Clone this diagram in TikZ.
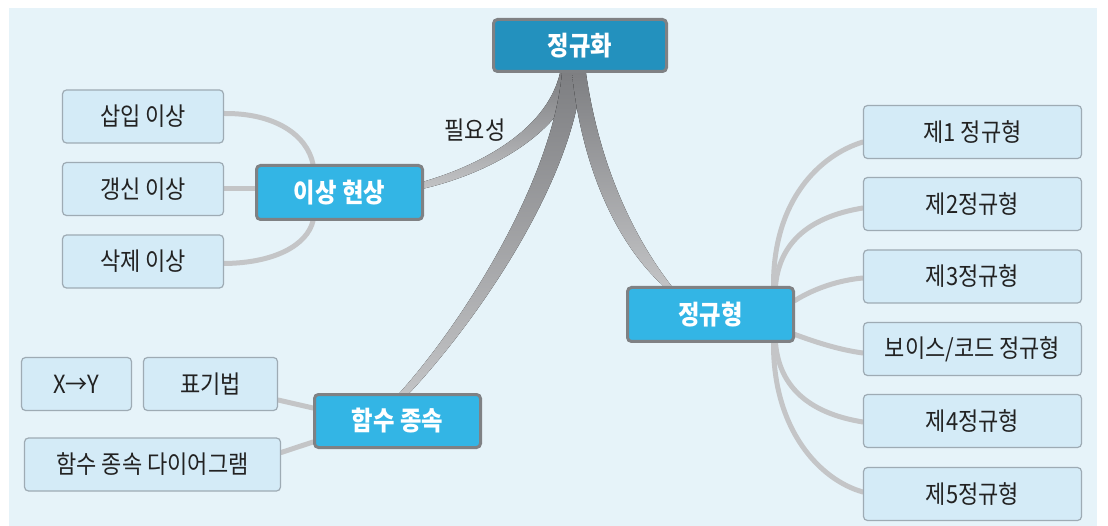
\documentclass[tikz,border=0pt]{standalone}
\usepackage{fontspec}
\setmainfont{Noto Sans CJK KR}[FakeStretch=0.88]
\usetikzlibrary{calc}
\pgfdeclarelayer{back}
\pgfdeclarelayer{bg}
\pgfsetlayers{back,bg,main}
\definecolor{bgblue}{HTML}{E6F3F9}
\definecolor{topfill}{HTML}{2391BE}
\definecolor{mainfill}{HTML}{33B5E5}
\definecolor{mainborder}{HTML}{7F8184}
\definecolor{leaffill}{HTML}{D4EBF7}
\definecolor{leafborder}{HTML}{9EABB4}
\definecolor{branchdark}{HTML}{7E7F82}
\definecolor{branchlight}{HTML}{C2C3C5}
\definecolor{twig}{HTML}{C4C5C7}
\definecolor{leaftext}{HTML}{222222}
\tikzset{
  mainbox/.style={draw=mainborder, line width=3pt, rounded corners=4pt, fill=mainfill,
    text=white, font=\fontsize{26.5}{30}\selectfont\bfseries, inner sep=0pt},
  topbox/.style={mainbox, fill=topfill},
  leafbox/.style={draw=leafborder, line width=1.2pt, rounded corners=4pt, fill=leaffill,
    text=leaftext, font=\fontsize{25}{28}\selectfont, inner sep=0pt, minimum height=53pt},
  branch/.style={top color=branchdark, bottom color=branchlight, draw=none},
  twigline/.style={draw=twig, line width=5pt, line cap=round},
  lbl/.style={text=leaftext, font=\fontsize{25}{28}\selectfont, inner sep=0pt}
}
\begin{document}
\begin{tikzpicture}[x=1pt,y=-1pt]
\useasboundingbox (0,0) rectangle (1108,526);
\begin{pgfonlayer}{back}
\fill[white] (0,0) rectangle (1108,526);
\fill[bgblue] (9,8) rectangle (1097,526);
\end{pgfonlayer}

% main nodes
\node[topbox, minimum width=173pt, minimum height=52pt] (norm) at (580,45.5) {정규화};
\node[mainbox, minimum width=166pt, minimum height=54pt] (ano) at (339.5,192.5) {이상 현상};
\node[mainbox, minimum width=166pt, minimum height=53pt] (fd) at (397.5,421) {함수 종속};
\node[mainbox, minimum width=166pt, minimum height=54pt] (nf) at (710.5,314.5) {정규형};

% left leaves
\node[leafbox, minimum width=161pt] (s1) at (143,116.5) {삽입 이상};
\node[leafbox, minimum width=161pt] (s2) at (143,189) {갱신 이상};
\node[leafbox, minimum width=161pt] (s3) at (143,261.5) {삭제 이상};

\node[leafbox, minimum width=110pt] (xy) at (76.5,384) {X→Y};
\node[leafbox, minimum width=134pt] (nota) at (210.5,384) {표기법};
\node[leafbox, minimum width=256pt] (diag) at (152.5,464.5) {함수 종속 다이어그램};

% right leaves
\node[leafbox, minimum width=218pt] (r1) at (972.5,132) {제1 정규형};
\node[leafbox, minimum width=218pt] (r2) at (972.5,204) {제2정규형};
\node[leafbox, minimum width=218pt] (r3) at (972.5,276.5) {제3정규형};
\node[leafbox, minimum width=218pt] (r4) at (972.5,349) {보이스/코드 정규형};
\node[leafbox, minimum width=218pt] (r5) at (972.5,421) {제4정규형};
\node[leafbox, minimum width=218pt] (r6) at (972.5,494) {제5정규형};

\node[lbl] (need) at (475,130) {필요성};

\begin{pgfonlayer}{bg}
% tapered main branches
\fill[branch] ($(norm.south)+(-20,0)$) .. controls (548,125) and (490,162) .. ($(ano.east)+(0,-11)$)
  -- ($(ano.east)+(0,-4)$) .. controls (495,172) and (568,128) .. ($(norm.south)+(-4,0)$) -- cycle;
\fill[branch] ($(norm.south)+(-18,0)$) .. controls (552,180) and (465,320) .. ($(fd.north)+(2,0)$)
  -- ($(fd.north)+(12,0)$) .. controls (478,320) and (574,180) .. ($(norm.south)+(2,0)$) -- cycle;
\fill[branch] ($(norm.south)+(-8,0)$) .. controls (582,170) and (618,245) .. ($(nf.north)+(-47,0)$)
  -- ($(nf.north)+(-39,0)$) .. controls (636,240) and (600,170) .. ($(norm.south)+(6,0)$) -- cycle;

% twigs of 이상 현상
\draw[twigline] ($(s1.east)+(0,-3)$) .. controls (275,113) and (307,135) .. ($(ano.north west)+(58,0)$);
\draw[twigline] (s2.east) -- (s2.east -| ano.west);
\draw[twigline] ($(s3.east)+(0,2)$) .. controls (275,263) and (307,245) .. ($(ano.south west)+(58,0)$);

% twigs of 함수 종속
\draw[twigline] ($(nota.east)+(0,16)$) -- ($(fd.west)+(0,-13)$);
\draw[twigline] ($(diag.east)+(0,-12)$) -- ($(fd.west)+(0,21)$);

% twigs of 정규형
\draw[twigline] ($(nf.north)+(63,0)$) .. controls (773,200) and (820,155) .. ($(r1.west)+(0,10)$);
\draw[twigline] ($(nf.north)+(65,0)$) .. controls (780,235) and (820,215) .. ($(r2.west)+(0,4)$);
\draw[twigline] ($(nf.east)+(0,-14)$) .. controls (815,288) and (840,280) .. ($(r3.west)+(0,1.5)$);
\draw[twigline] ($(nf.east)+(0,20)$) .. controls (815,342) and (840,350) .. ($(r4.west)+(0,4)$);
\draw[twigline] ($(nf.south)+(65,0)$) .. controls (780,395) and (820,415) .. ($(r5.west)+(0,1)$);
\draw[twigline] ($(nf.south)+(63,0)$) .. controls (773,430) and (820,480) .. ($(r6.west)+(0,-2)$);
\end{pgfonlayer}
\end{tikzpicture}
\end{document}
